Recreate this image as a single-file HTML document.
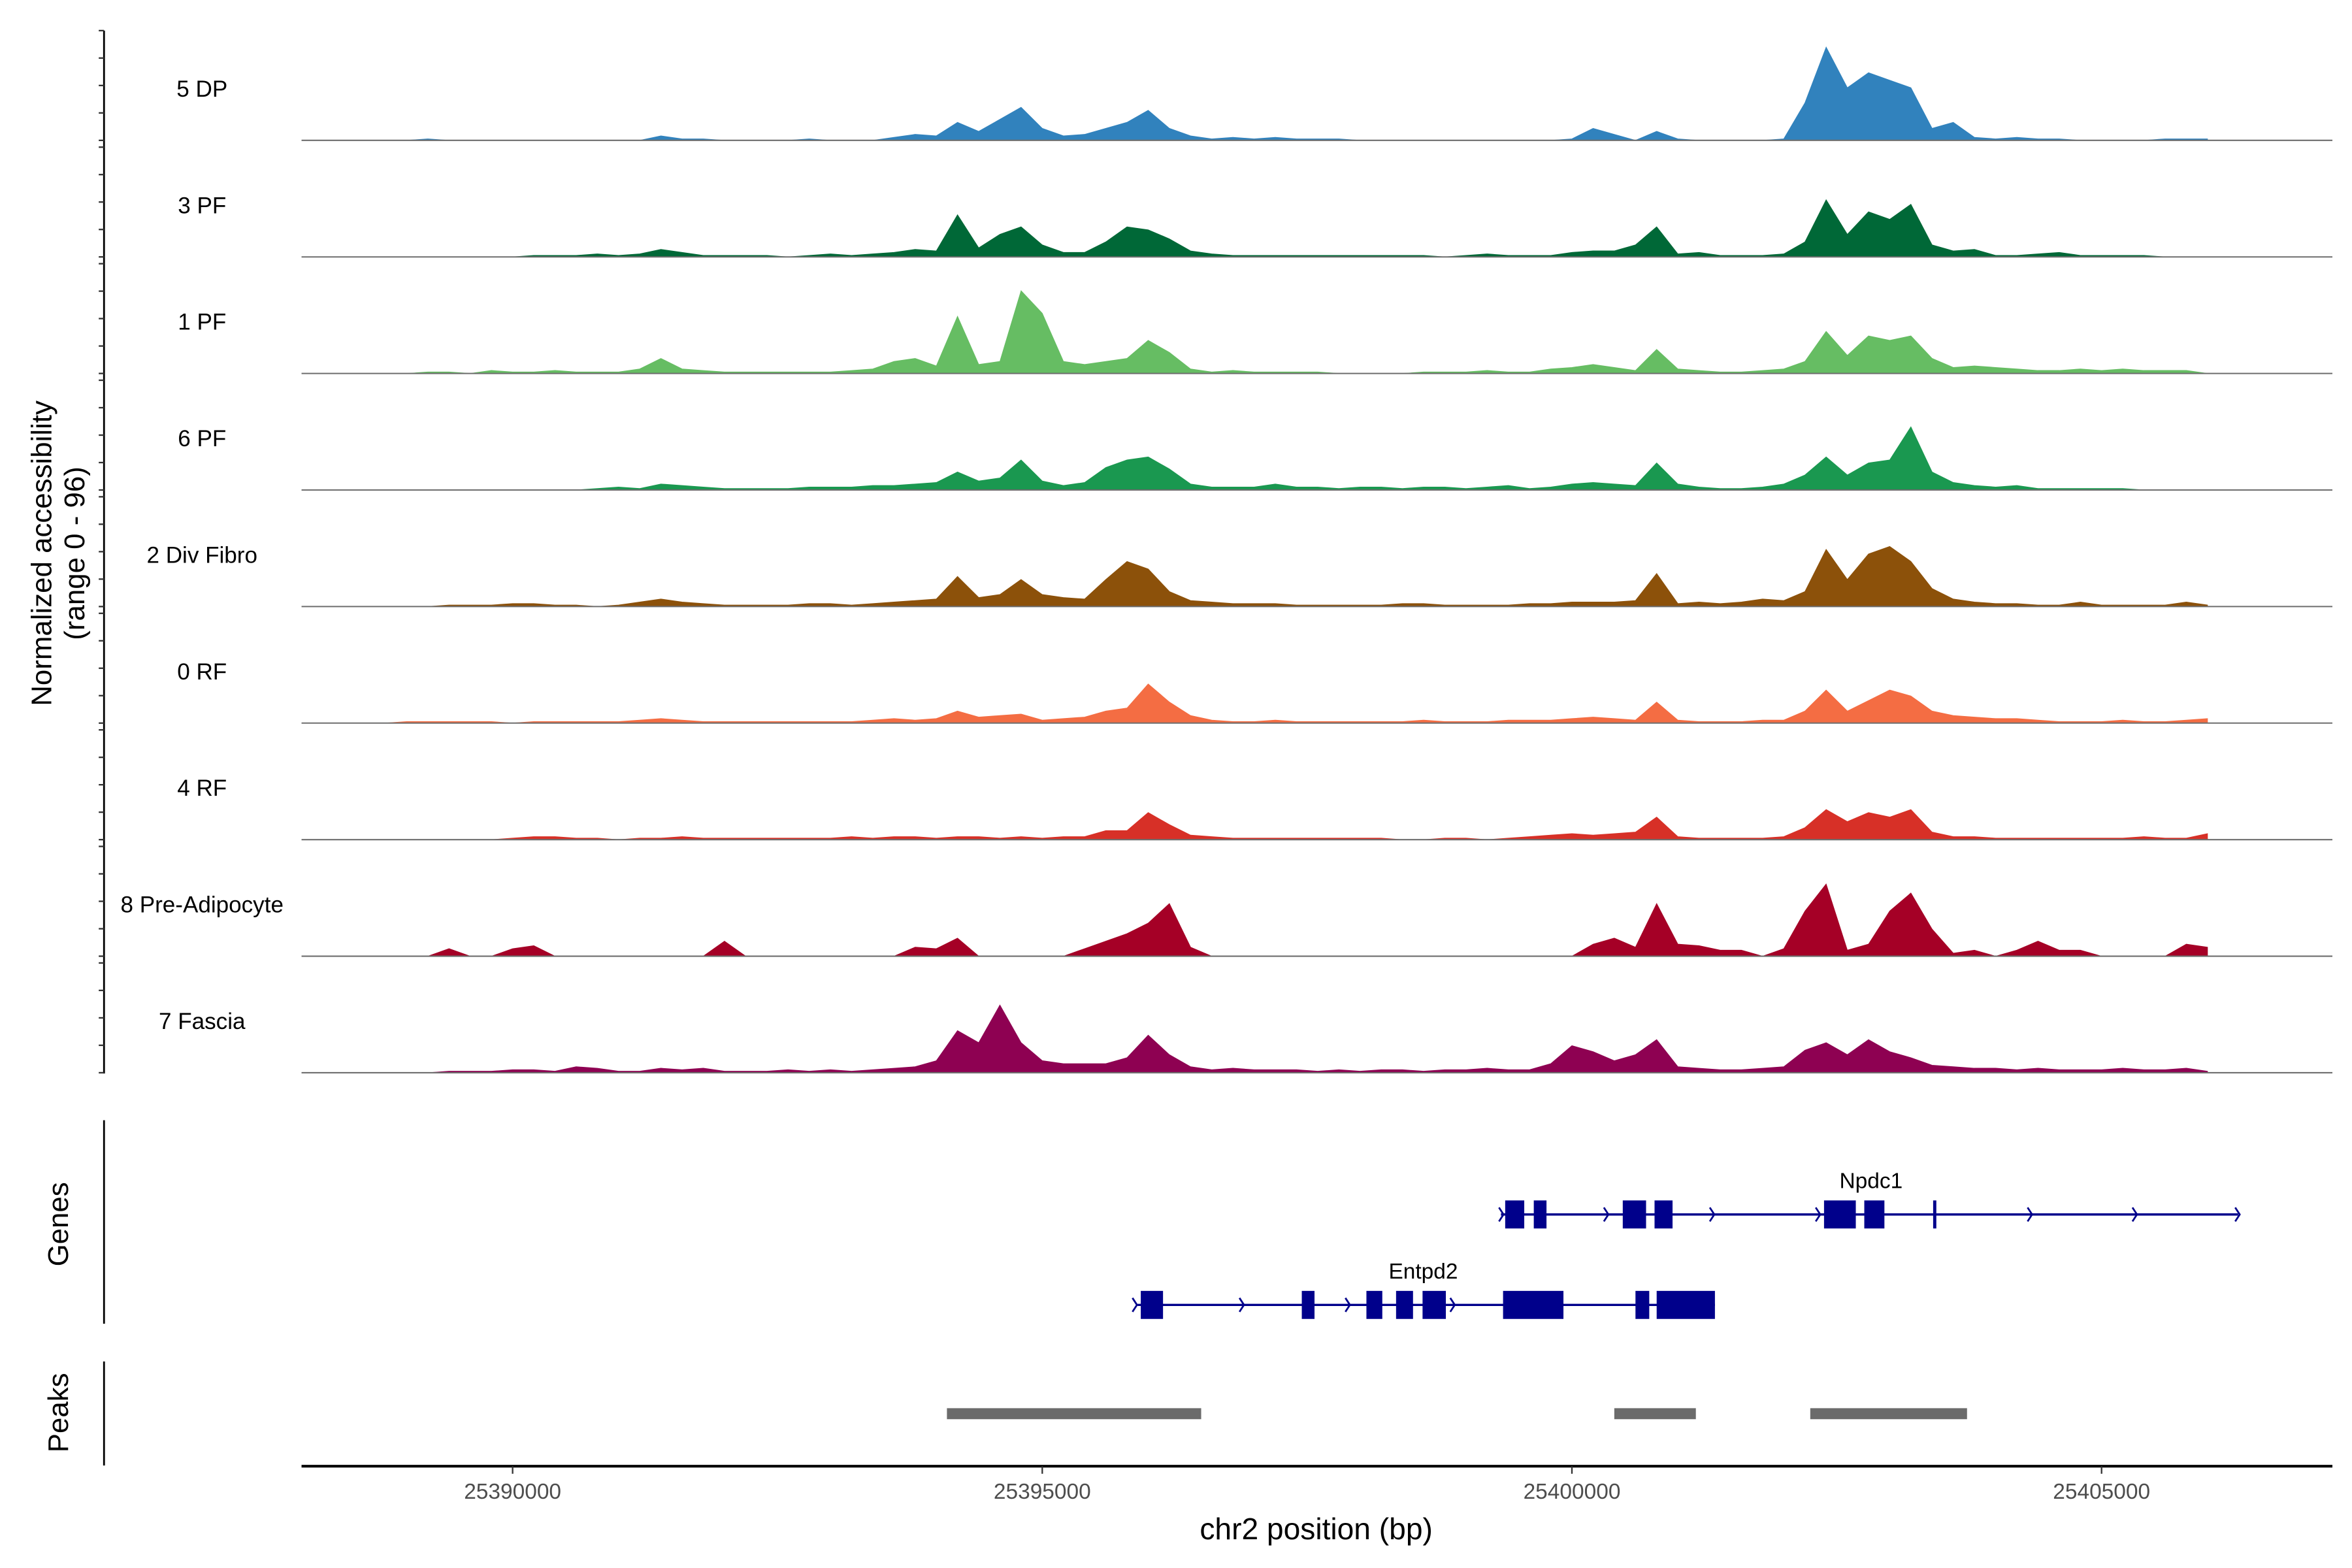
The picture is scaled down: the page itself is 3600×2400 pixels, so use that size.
<!DOCTYPE html>
<html><head><meta charset="utf-8">
<style>
html,body{margin:0;padding:0;background:#fff;}
svg{display:block;font-family:"Liberation Sans",Arial,sans-serif;}
</style></head>
<body>
<svg id="chart" width="3600" height="2400" viewBox="0 0 1560 1040" xmlns="http://www.w3.org/2000/svg">
  <g id="tracks"></g>
  <g id="leftaxis"></g>
  <text transform="translate(34,367) rotate(-90)" text-anchor="middle" font-size="19">Normalized accessibility</text>
  <text transform="translate(56,367) rotate(-90)" text-anchor="middle" font-size="19">(range 0 - 96)</text>
  <line x1="69" y1="743" x2="69" y2="878" stroke="#000" stroke-width="1.2"/>
  <text transform="translate(45,812) rotate(-90)" text-anchor="middle" font-size="19">Genes</text>
  <line x1="69" y1="903" x2="69" y2="972" stroke="#000" stroke-width="1.2"/>
  <text transform="translate(45,937) rotate(-90)" text-anchor="middle" font-size="19">Peaks</text>
  <g id="genes"></g>
  <g id="peaks"></g>
  <g id="xaxis"></g>
  <text x="873" y="1021" text-anchor="middle" font-size="20">chr2 position (bp)</text>
</svg>
<script>
// ---- data ----
const trackNames = ["5 DP","3 PF","1 PF","6 PF","2 Div Fibro","0 RF","4 RF","8 Pre-Adipocyte","7 Fascia"];
const trackColors = ["#3182bd","#006837","#66bd63","#1a9850","#8c510a","#f46d43","#d73027","#a50026","#8e0152"];
const binStart = 25388800;
const binSize = 200;
const dp5 = [0,0,1,0,0,0,0,0,0,0, 0,0,0,3,1,1,0,0,0,0, 1,0,0,0,2,4,3,12,6,14, 22,8,3,4,8,12,20,8,3,1, 2,1,2,1,1,1,0,0,0,0, 0,0,0,0,0,0,1,8,4,0, 6,1,0,0,0,0,1,25,62,35, 45,40,35,8,12,2,1,2,1,1, 0,0,0,0,1,1,1];
const pf3 = [0,0,0,0,0,0,0,1,1,1, 2,1,2,5,3,1,1,1,1,0, 1,2,1,2,3,5,4,28,6,15, 20,8,3,3,10,20,18,12,4,2, 1,1,1,1,1,1,1,1,1,1, 0,1,2,1,1,1,3,4,4,8, 20,2,3,1,1,1,2,10,38,15, 30,25,35,8,4,5,1,1,2,3, 1,1,1,1,0,0,0];
const pf1 = [0,0,1,1,0,2,1,1,2,1, 1,1,3,10,3,2,1,1,1,1, 1,1,2,3,8,10,5,38,6,8, 55,40,8,6,8,10,22,14,3,1, 2,1,1,1,1,0,0,0,0,1, 1,1,2,1,1,3,4,6,4,2, 16,3,2,1,1,2,3,8,28,12, 25,22,25,10,4,5,4,3,2,2, 3,2,3,2,2,2,0];
const pf6 = [0,0,0,0,0,0,0,0,0,0, 1,2,1,4,3,2,1,1,1,1, 2,2,2,3,3,4,5,12,6,8, 20,6,3,5,15,20,22,14,4,2, 2,2,4,2,2,1,2,2,1,2, 2,1,2,3,1,2,4,5,4,3, 18,4,2,1,1,2,4,10,22,10, 18,20,42,12,5,3,2,3,1,1, 1,1,1,0,0,0,0];
const dv2 = [0,0,0,1,1,1,2,2,1,1, 0,1,3,5,3,2,1,1,1,1, 2,2,1,2,3,4,5,20,6,8, 18,8,6,5,18,30,25,10,4,3, 2,2,2,1,1,1,1,1,2,2, 1,1,1,1,2,2,3,3,3,4, 22,2,3,2,3,5,4,10,38,18, 35,40,30,12,5,3,2,2,1,1, 3,1,1,1,1,3,1];
const rf0 = [0,1,1,1,1,1,0,1,1,1, 1,1,2,3,2,1,1,1,1,1, 1,1,1,2,3,2,3,8,4,5, 6,2,3,4,8,10,26,14,5,2, 1,1,2,1,1,1,1,1,1,2, 1,1,1,2,2,2,3,4,3,2, 14,2,1,1,1,2,2,8,22,8, 15,22,18,8,5,4,3,3,2,1, 1,1,2,1,1,2,3];
const rf4 = [0,0,0,0,0,0,1,2,2,1, 1,0,1,1,2,1,1,1,1,1, 1,1,2,1,2,2,1,2,2,1, 2,1,2,2,6,6,18,10,3,2, 1,1,1,1,1,1,1,1,0,0, 1,1,0,1,2,3,4,3,4,5, 15,2,1,1,1,1,2,8,20,12, 18,15,20,5,2,2,1,1,1,1, 1,1,1,2,1,1,4];
const pa8 = [0,0,0,5,0,0,5,7,0,0, 0,0,0,0,0,0,10,0,0,0, 0,0,0,0,0,6,5,12,0,0, 0,0,0,5,10,15,22,35,6,0, 0,0,0,0,0,0,0,0,0,0, 0,0,0,0,0,0,0,8,12,6, 35,8,7,4,4,0,5,30,48,4, 8,30,42,18,2,4,0,4,10,4, 4,0,0,0,0,8,6];
const fa7 = [0,0,0,1,1,1,2,2,1,4, 3,1,1,3,2,3,1,1,1,2, 1,2,1,2,3,4,8,28,20,45, 20,8,6,6,6,10,25,12,4,2, 3,2,2,2,1,2,1,2,2,1, 2,2,3,2,2,6,18,14,8,12, 22,4,3,2,2,3,4,15,20,12, 22,14,10,5,4,3,3,2,3,2, 2,2,3,2,2,3,1];
const trackValues = [dp5,pf3,pf1,pf6,dv2,rf0,rf4,pa8,fa7];
const xTicks = [25390000,25395000,25400000,25405000];
const peakStarts = [25394100,25400400,25402250];
const peakEnds = [25396500,25401170,25403730];
const npdc1Exons = [[25399370,25399550],[25399640,25399760],[25400480,25400700],[25400780,25400950],[25402380,25402680],[25402760,25402950],[25403410,25403440]];
const npdc1Range = [25399330,25406290];
const npdc1Chevrons = [25399340,25400330,25401330,25402330,25404330,25405320,25406290];
const entpd2Exons = [[25395930,25396140],[25397450,25397570],[25398060,25398210],[25398340,25398500],[25398590,25398810],[25399350,25399920],[25400600,25400730],[25400800,25401350]];
const entpd2Range = [25395900,25401350];
const entpd2Chevrons = [25395880,25396890,25397890,25398880];

// ---- scales ----
const NS = "http://www.w3.org/2000/svg";
const xScale = bp => 340 + (bp - 25390000) * (351.3/5000);
const baselines = trackNames.map((_,k) => 93.1 + k*77.3);
const trackPx = 72.8, yMax = 73; // plotted-height scale
const yScale = (v, base) => base - v * trackPx / yMax;
function mk(tag, attrs, parent){ const e=document.createElementNS(NS,tag); for(const k in attrs) e.setAttribute(k,attrs[k]); parent.appendChild(e); return e; }

// tracks
const tg = document.getElementById('tracks');
trackValues.forEach((vals,k) => {
  const base = baselines[k];
  let d = "M" + xScale(binStart).toFixed(2) + "," + base;
  vals.forEach((v,i) => { d += " L" + xScale(binStart + i*binSize).toFixed(2) + "," + yScale(v,base).toFixed(2); });
  d += " L" + xScale(binStart + (vals.length-1)*binSize).toFixed(2) + "," + base + " Z";
  const p = mk('path',{d:d, fill:trackColors[k], stroke:trackColors[k], 'stroke-width':0.4}, tg);
  
  
  const bl = mk('line',{x1:200,x2:1547,y1:base,y2:base,stroke:'#6e6e6e','stroke-width':0.9}, tg);
  
  
  const t = mk('text',{x:134,y:base-29,'text-anchor':'middle','font-size':15.2,fill:'#000'}, tg);
  t.textContent = trackNames[k];
  
  
});

// left axis
const la = document.getElementById('leftaxis');
const axl = mk('line',{x1:69,x2:69,y1:20.3,y2:712,stroke:'#000','stroke-width':1.2}, la);


baselines.forEach(base => {
  for(let j=0;j<=4;j++){
    const y = base - j*trackPx/4;
    const tk = mk('line',{x1:65.5,x2:69,y1:y,y2:y,stroke:'#333','stroke-width':1}, la);
    
    
  }
});

// genes
const gg = document.getElementById('genes');
function drawGene(range, exons, chevrons, yc, name, labelX){
  const ln = mk('line',{x1:xScale(range[0]),x2:xScale(range[1]),y1:yc,y2:yc,stroke:'#00008b','stroke-width':1.5}, gg);
  
  
  exons.forEach(ex => {
    const r = mk('rect',{x:xScale(ex[0]),y:yc-9.3,width:Math.max(1.2,xScale(ex[1])-xScale(ex[0])),height:18.6,fill:'#00008b'}, gg);
    
    
  });
  chevrons.forEach(c => {
    const x = xScale(c);
    const p = mk('path',{d:`M${x-2},${yc-4.6} L${x+1},${yc} L${x-2},${yc+4.6}`,fill:'none',stroke:'#00008b','stroke-width':1.2}, gg);
    
    
  });
  const t = mk('text',{x:labelX,y:yc-17.5,'text-anchor':'middle','font-size':14.5,fill:'#000'}, gg);
  t.textContent = name;
  
  
}
drawGene(npdc1Range, npdc1Exons, npdc1Chevrons, 805.5, 'Npdc1', 1241);
drawGene(entpd2Range, entpd2Exons, entpd2Chevrons, 865.5, 'Entpd2', 944);

// peaks
const pg = document.getElementById('peaks');
peakStarts.forEach((s,i) => {
  const r = mk('rect',{x:xScale(s),y:934,width:xScale(peakEnds[i])-xScale(s),height:7.3,fill:'#6b6b6b'}, pg);
  
  
});

// x axis
const xa = document.getElementById('xaxis');
const xl = mk('line',{x1:200,x2:1547,y1:972.5,y2:972.5,stroke:'#000','stroke-width':1.8}, xa);


xTicks.forEach(t => {
  const x = xScale(t);
  const tk = mk('line',{x1:x,x2:x,y1:972.5,y2:977.5,stroke:'#333','stroke-width':1}, xa);
  
  
  const lb = mk('text',{x:x,y:994,'text-anchor':'middle','font-size':14.5,fill:'#4d4d4d'}, xa);
  lb.textContent = String(t);
  
  
});
</script>
</body></html>
